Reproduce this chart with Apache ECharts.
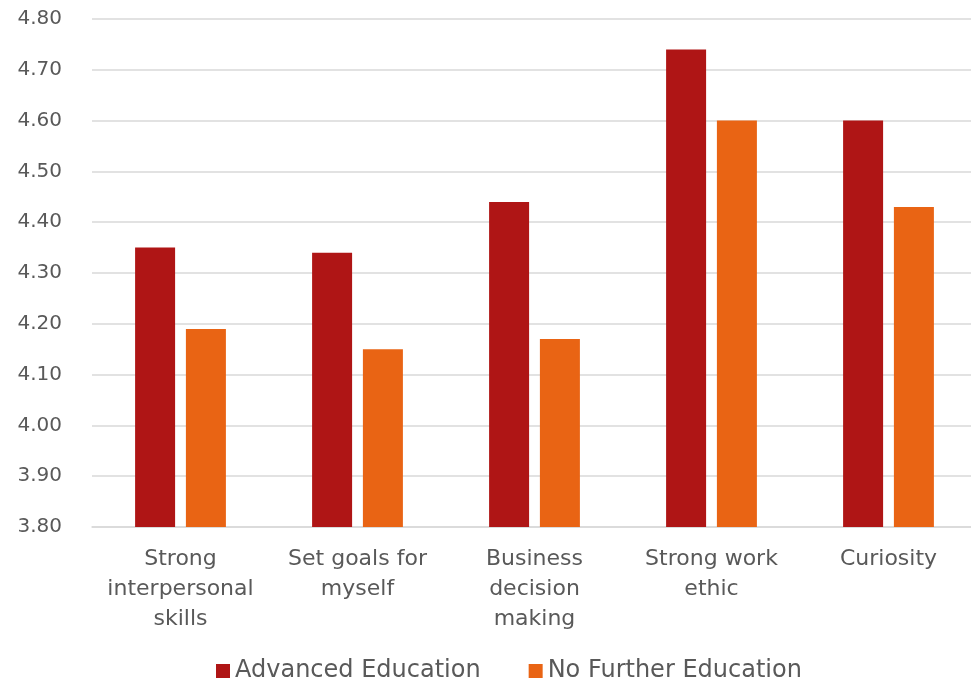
<!DOCTYPE html>
<html>
<head>
<meta charset="utf-8">
<script src="https://cdn.jsdelivr.net/npm/echarts@6/dist/echarts.min.js"></script>
<style>
  html, body { margin: 0; padding: 0; background: #fff; overflow: hidden; }
  /* the plot runs a few pixels past the right edge of the window */
  #chart { width: 980px; height: 681px; }
</style>
</head>
<body>
<div id="chart"></div>
<script>
// Mean rating per trait, by education level
const categories = [
  'Strong\ninterpersonal\nskills',
  'Set goals for\nmyself',
  'Business\ndecision\nmaking',
  'Strong work\nethic',
  'Curiosity'
];
const seriesNames = ['Advanced Education', 'No Further Education'];
const advancedEducation = [4.35, 4.34, 4.44, 4.74, 4.60];
const noFurtherEducation = [4.19, 4.15, 4.17, 4.60, 4.43];
const seriesColors = ['#AF1515', '#E96414'];

const FONT = '"DejaVu Sans", sans-serif';
const TEXT = '#595959';

const chart = echarts.init(document.getElementById('chart'));
chart.setOption({
  animation: false,
  textStyle: { fontFamily: FONT },
  grid: { left: 92, right: 3, top: 19, bottom: 154, containLabel: false },
  legend: {
    top: 659,
    left: 216,
    padding: 0,
    itemWidth: 14,
    itemHeight: 14,
    itemGap: 48,
    icon: 'rect',
    textStyle: { fontFamily: FONT, fontSize: 24, color: TEXT },
    data: seriesNames
  },
  xAxis: {
    type: 'category',
    data: categories,
    axisLine: { lineStyle: { color: '#D9D9D9', width: 1.5 } },
    axisTick: { show: false },
    axisLabel: {
      fontFamily: FONT, fontSize: 22, color: TEXT,
      lineHeight: 30, margin: 17, interval: 0
    }
  },
  yAxis: {
    type: 'value',
    min: 3.8,
    max: 4.8,
    interval: 0.1,
    axisLine: { show: false },
    axisTick: { show: false },
    splitLine: { lineStyle: { color: '#D9D9D9', width: 1.5 } },
    axisLabel: {
      fontFamily: FONT, fontSize: 20, color: TEXT, margin: 30,
      formatter: v => v.toFixed(2)
    }
  },
  series: [
    {
      name: seriesNames[0],
      type: 'bar',
      data: advancedEducation,
      barWidth: 40,
      barGap: '27%',
      itemStyle: { color: seriesColors[0] }
    },
    {
      name: seriesNames[1],
      type: 'bar',
      data: noFurtherEducation,
      barWidth: 40,
      barGap: '27%',
      itemStyle: { color: seriesColors[1] }
    }
  ]
});
</script>
</body>
</html>
